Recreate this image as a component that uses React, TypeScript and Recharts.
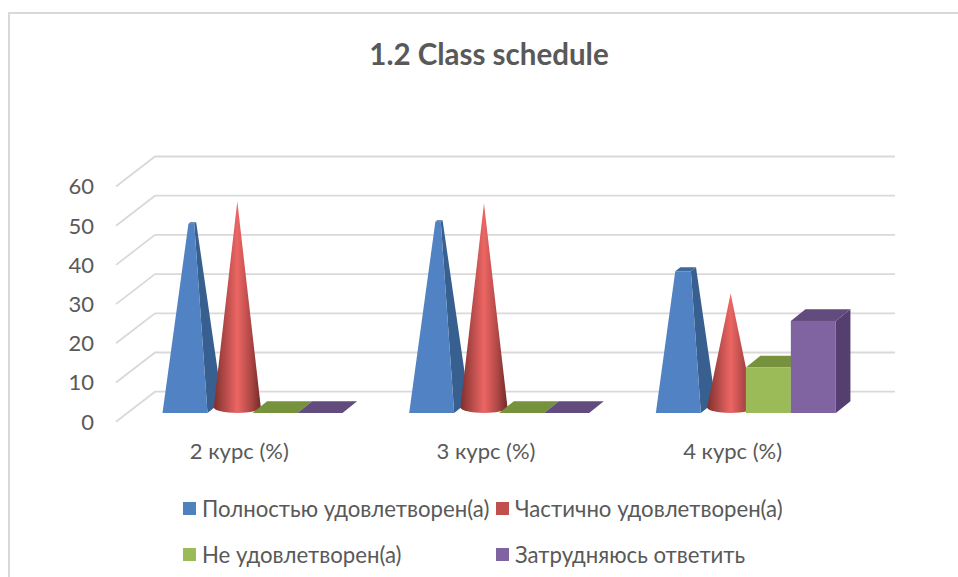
import React from "react";
import { BarChart, Bar, XAxis, YAxis, CartesianGrid, Legend } from "recharts";

const categories = ["2 курс (%)", "3 курс (%)", "4 курс (%)"];
const fullySatisfied = [47, 47.5, 35.2];
const partlySatisfied = [52.5, 52, 29];
const notSatisfied = [0, 0, 11.6];
const hardToSay = [0, 0, 23.5];
const seriesNames = [
  "Полностью удовлетворен(а)",
  "Частично удовлетворен(а)",
  "Не удовлетворен(а)",
  "Затрудняюсь ответить",
];
const yTicks = [0, 10, 20, 30, 40, 50, 60];
const AXIS_MAX = 60;
const PYRAMID_PEAK = 54;

const rows = categories.map((name, i) => ({
  name,
  a: fullySatisfied[i],
  b: partlySatisfied[i],
  c: notSatisfied[i],
  d: hardToSay[i],
}));

const FONT = "Lato, 'Noto Sans', sans-serif";
const TEXT = "#595959";
const GRID_DX = 39;
const GRID_DY = -30;
const BAR_DX = 13.5;
const BAR_DY = -8.7;
const DEPTH_X = 14.6;
const DEPTH_Y = -11.7;

const pts = (p: number[][]) => p.map((q) => q.join(",")).join(" ");

const GridLine = (p: any) => {
  const d = `M${p.x1},${p.y1} L${p.x1 + GRID_DX},${p.y1 + GRID_DY} L${p.x2 + GRID_DX},${p.y1 + GRID_DY}`;
  return <path key={p.key ?? p.y1} d={d} fill="none" stroke="#D9D9D9" strokeWidth={1.8} />;
};

const Pyramid = (p: any) => {
  const x = p.x + BAR_DX;
  const w = p.width;
  const base = p.y + p.height + BAR_DY;
  const value = Array.isArray(p.value) ? p.value[1] - p.value[0] : p.value;
  const t = value / PYRAMID_PEAK;
  const fullH = value > 0 ? p.height / t : 0;
  const ax = x + w / 2 + DEPTH_X / 2;
  const ay = base + DEPTH_Y / 2 - fullH;
  const lerp = (a: number, b: number) => a + (b - a) * t;
  const fl = [lerp(x, ax), lerp(base, ay)];
  const fr = [lerp(x + w, ax), lerp(base, ay)];
  const bl = [lerp(x + DEPTH_X, ax), lerp(base + DEPTH_Y, ay)];
  const br = [lerp(x + w + DEPTH_X, ax), lerp(base + DEPTH_Y, ay)];
  return (
    <g>
      <polygon points={pts([[x + w, base], [x + w + DEPTH_X, base + DEPTH_Y], br, fr])} fill="#375F8F" />
      <polygon points={pts([fl, fr, br, bl])} fill="#3F689B" />
      <polygon points={pts([[x, base], [x + w, base], fr, fl])} fill="#5182C3" />
    </g>
  );
};

const Cone = (p: any) => {
  const id = `cone-${p.index}`;
  const cx = p.x + BAR_DX + p.width / 2 + DEPTH_X / 2;
  const cy = p.y + p.height + BAR_DY + DEPTH_Y / 2;
  const rx = 23.5;
  const ry = 5.85;
  const top = cy - p.height;
  return (
    <g>
      <defs>
        <linearGradient id={id} x1="0" x2="1" y1="0" y2="0">
          <stop offset="0%" stopColor="#7E2F2D" />
          <stop offset="22%" stopColor="#B04846" />
          <stop offset="50%" stopColor="#EC6664" />
          <stop offset="78%" stopColor="#B04846" />
          <stop offset="100%" stopColor="#742A28" />
        </linearGradient>
      </defs>
      <path
        d={`M${cx - rx},${cy} L${cx},${top} L${cx + rx},${cy} A${rx},${ry} 0 0 1 ${cx - rx},${cy} Z`}
        fill={`url(#${id})`}
      />
    </g>
  );
};

const makeBox = (front: string, topFill: string, sideFill: string) => (p: any) => {
  const x = p.x + BAR_DX;
  const w = p.width;
  const bottom = p.y + p.height + BAR_DY;
  const y = bottom - p.height;
  return (
    <g>
      {p.height > 0 && (
        <polygon
          points={pts([[x + w, y], [x + w + DEPTH_X, y + DEPTH_Y], [x + w + DEPTH_X, bottom + DEPTH_Y], [x + w, bottom]])}
          fill={sideFill}
        />
      )}
      <polygon
        points={pts([[x, y], [x + w, y], [x + w + DEPTH_X, y + DEPTH_Y], [x + DEPTH_X, y + DEPTH_Y]])}
        fill={topFill}
      />
      {p.height > 0 && <rect x={x} y={y} width={w} height={p.height} fill={front} />}
    </g>
  );
};

const GreenBox = makeBox("#9BBB59", "#76923C", "#76923C");
const PurpleBox = makeBox("#8064A2", "#624B7D", "#553F70");

const legendSlots = [
  { left: 183, top: 0 },
  { left: 496, top: 0 },
  { left: 183, top: 46 },
  { left: 496, top: 46 },
];

const LegendBody = ({ payload }: any) => (
  <div style={{ position: "relative", width: 958, height: 80 }}>
    {(payload || []).map((e: any) => {
      const slot = legendSlots[seriesNames.indexOf(e.value)];
      return (
        <div
          key={e.value}
          style={{
            position: "absolute",
            left: slot.left,
            top: slot.top,
            display: "flex",
            alignItems: "center",
            height: 30,
            fontFamily: FONT,
            fontSize: 22.2,
            color: TEXT,
            whiteSpace: "nowrap",
          }}
        >
          <span style={{ width: 13, height: 13, background: e.color, marginRight: 6, display: "inline-block" }} />
          {e.value}
        </div>
      );
    })}
  </div>
);

export default function App() {
  return (
    <div style={{ position: "absolute", left: 0, top: 0, width: 958, height: 577, background: "#fff", overflow: "hidden" }}>
      <div
        style={{
          position: "absolute",
          left: 8,
          top: 12,
          width: 990,
          height: 600,
          borderLeft: "2px solid #D9D9D9",
          borderTop: "2px solid #D9D9D9",
        }}
      />
      <div
        style={{
          position: "absolute",
          left: 0,
          top: 35.5,
          width: 978,
          textAlign: "center",
          fontFamily: FONT,
          fontWeight: 700,
          fontSize: 29.5,
          color: TEXT,
        }}
      >
        1.2 Class schedule
      </div>
      <BarChart
        width={958}
        height={577}
        data={rows}
        margin={{ top: 186.5, right: 102, bottom: 125.3, left: 0 }}
        barSize={45}
        barGap={0}
        style={{ position: "absolute", left: 0, top: 0 }}
      >
        <CartesianGrid horizontal={GridLine as any} vertical={false} />
        <XAxis
          dataKey="name"
          axisLine={false}
          tickLine={false}
          tickSize={0}
          tickMargin={22}
          tick={{ fill: TEXT, fontFamily: FONT, fontSize: 22 }}
        />
        <YAxis
          width={116}
          domain={[0, AXIS_MAX]}
          ticks={yTicks}
          axisLine={false}
          tickLine={false}
          tickSize={0}
          tickMargin={22}
          tick={{ fill: TEXT, fontFamily: FONT, fontSize: 22 }}
        />
        <Legend
          layout="horizontal"
          verticalAlign="middle"
          align="center"
          itemSorter={null as any}
          content={LegendBody as any}
          wrapperStyle={{ position: "absolute", left: 0, top: 493, width: 958 }}
        />
        <Bar dataKey="a" name={seriesNames[0]} fill="#4F81BD" shape={Pyramid} isAnimationActive={false} />
        <Bar dataKey="b" name={seriesNames[1]} fill="#C0504D" shape={Cone} isAnimationActive={false} />
        <Bar dataKey="c" name={seriesNames[2]} fill="#9BBB59" shape={GreenBox} isAnimationActive={false} />
        <Bar dataKey="d" name={seriesNames[3]} fill="#8064A2" shape={PurpleBox} isAnimationActive={false} />
      </BarChart>
    </div>
  );
}
